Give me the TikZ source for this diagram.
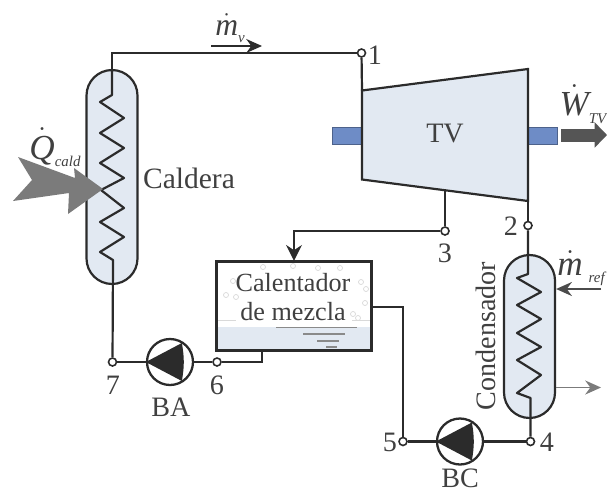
\documentclass[tikz,border=0pt]{standalone}
\usepackage{fontspec}
\setmainfont{Liberation Serif}
\usepackage{tikz}
\usetikzlibrary{arrows.meta,positioning,calc}
\definecolor{Ink}{HTML}{2B2B2B}
\definecolor{Steam}{HTML}{E2E9F2}
\definecolor{Shaft}{HTML}{6E8CC6}
\definecolor{Heat}{HTML}{7B7B7B}
\newcommand{\sublabel}[1]{\raisebox{-4pt}{\fontsize{8.5}{9}\selectfont\itshape #1}}
\tikzset{
  pipe/.style={draw=Ink, line width=1.25pt},
  vessel/.style={draw=Ink, line width=1.25pt, fill=Steam, rounded corners=0.51cm,
    minimum width=1.02cm, inner sep=0pt},
  port/.style={circle, draw=Ink, line width=0.9pt, fill=white, inner sep=0pt, minimum size=0.16cm},
  pumpbody/.style={circle, draw=Ink, line width=1.3pt, fill=white, inner sep=0pt, minimum size=0.92cm},
  lab/.style={text=Ink!90, font=\fontsize{16}{18}\selectfont, inner sep=0pt},
  rate/.style={text=Ink!90, font=\fontsize{20}{22}\selectfont, inner sep=0pt},
  fatarr/.style={-{Stealth[length=9pt,width=8pt]}, line width=0.8pt},
}

\begin{document}
\begin{tikzpicture}[x=0.02cm, y=-0.02cm]
  \useasboundingbox (0,0) rectangle (607,497);

  % vessels and turbine
  \node[vessel, minimum height=4.28cm] (caldera) at (112,177) {};
  \node[vessel, minimum height=3.26cm] (condensador) at (529.5,336.5) {};
  \draw[Shaft!70!black, line width=0.5pt, fill=Shaft] (332,127) rectangle (362,144);
  \draw[Shaft!70!black, line width=0.5pt, fill=Shaft] (528,127) rectangle (557,144);
  \coordinate (t1) at (362,90.5);
  \coordinate (t2) at (528,69);
  \coordinate (t3) at (528,201);
  \coordinate (t4) at (362,179.5);
  \coordinate (t5) at ($(t4)!0.5!(t3)$);
  \draw[pipe, fill=Steam] (t1) -- (t2) -- (t3) -- (t4) -- cycle;
  \node[lab] (tv) at (445,134) {TV};

  % mixing heater
  \node[draw=Ink, line width=1.3pt, fill=white, minimum width=3.08cm, minimum height=1.76cm, inner sep=0pt] (calentador) at (294,306) {};
  \fill[Steam] (218,327) rectangle (370,349);
  \draw[Ink, line width=1.3pt] (calentador.north west) rectangle (calentador.south east);
  \draw[Ink!55, line width=0.7pt]
    (276,327.5) -- (357,327.5) (303,334) -- (345,334) (317,341) -- (339,341) (326,347) -- (337,347);
  \draw[Ink!18, line width=0.4pt]
    (218,320) -- (236,320) (352,320) -- (370,320);
  \foreach \bx/\by in {233/281, 226/295, 236/297, 361/282, 366/289, 365/303, 353/314, 358/318, 263/267, 293/266, 318/268, 340/268}
    \draw[Ink!18, line width=0.4pt] (\bx,\by) circle (2.5);
  \node[lab, align=center, font=\fontsize{14.9}{16.4}\selectfont] (calentadortxt) at (293,297) {Calentador\\de mezcla};

  % pumps
  \node[pumpbody] (ba) at (170,362) {};
  \node[pumpbody] (bc) at (460,441.5) {};
  \foreach \pp in {ba,bc}
    \fill[Ink] (\pp.west) -- ++(36,-19) to[bend left=10] ++(0,38) -- cycle;

  % ports
  \node[port] (p1) at (361.5,53) {};
  \node[port] (p2) at (528,225.5) {};
  \node[port] (p3) at (445,231) {};
  \node[port] (p4) at (530.5,441.5) {};
  \node[port] (p5) at (403,441.5) {};
  \node[port] (p6) at (217,362) {};
  \node[port] (p7) at (112.5,362) {};

  % piping
  \draw[pipe] (caldera.north) |- (p1);
  \draw[pipe] (p1) -- (t1);
  \draw[pipe] (t3) -- (p2);
  \draw[pipe] (t5) -- (p3);
  \draw[pipe, -{Stealth[length=9pt,width=9pt]}] (p3) -| (calentador.north);
  \draw[pipe] (calentador.south -| 262,0) |- (p6);
  \draw[pipe] (p6) -- (ba);
  \draw[pipe] (ba) -- (p7);
  \draw[pipe] (calentador.east |- 0,307) -| (p5);
  \draw[pipe] (p5) -- (bc);
  \draw[pipe] (bc) -- (p4);

  % coils
  \draw[pipe, line join=round] (caldera.north) -- (112,95) -- (100,102) -- (124,118) -- (100,133) -- (124,148)
    -- (100,163) -- (124,178) -- (101,190) -- (124,208) -- (100,222) -- (124,237) -- (100,252)
    -- (113,260) -- (p7);
  \draw[pipe, line join=round] (p2) -- (528,274) -- (517,278) -- (541,292) -- (517,305) -- (541,319)
    -- (517,333) -- (541,347) -- (517,360) -- (541,375) -- (517,393) -- (530.5,398) -- (p4);

  % heat and work arrows
  \fill[Heat] (18,157) -- (75,178) -- (74,168) -- (103,189) -- (68,214) -- (69,193) -- (13,201) -- (32,180) -- cycle;
  \coordinate (w0) at (561,135);
  \coordinate (w1) at (607,135);
  \draw[line width=7.4pt, draw=Ink!80, -{Triangle[length=7pt,width=14pt]}] (w0) -- (w1);

  % flows at the condenser and steam line
  \coordinate (v0) at (211,46);
  \coordinate (v1) at (262,46);
  \draw[fatarr, Ink] (v0) -- (v1);
  \coordinate (r0) at (601,289);
  \draw[fatarr, Ink!85] (r0) -- (condensador.east |- r0);
  \coordinate (o0) at (601,387.5);
  \draw[fatarr, Heat] (condensador.east |- o0) -- (o0);

  % labels
  \node[lab] (l1) at (375,55) {1};
  \node[lab] (l2) at (511,226) {2};
  \node[lab] (l3) at (445,253) {3};
  \node[lab] (l4) at (547,442) {4};
  \node[lab] (l5) at (390,442) {5};
  \node[lab] (l6) at (217,385) {6};
  \node[lab] (l7) at (113,385) {7};
  \node[lab] (lba) at (171,407) {BA};
  \node[lab] (lbc) at (460,478) {BC};
  \node[lab, font=\fontsize{16.8}{18}\selectfont] (lcal) at (189,178) {Caldera};
  \node[lab, rotate=90] (lcon) at (486,336) {Condensador};
  \node[rate, font=\fontsize{18}{20}\selectfont] (lmv) at (230,28) {$\dot{\mathit{m}}$\sublabel{v}};
  \node[rate] (lq) at (55,147) {$\dot{\mathit{Q}}$\sublabel{cald}};
  \node[rate] (lw) at (583,104) {$\dot{\mathit{W}}$\sublabel{TV}};
  \node[rate] (lmr) at (581,268) {$\dot{\mathit{m}}$\,\sublabel{ref}};
\end{tikzpicture}
\end{document}
